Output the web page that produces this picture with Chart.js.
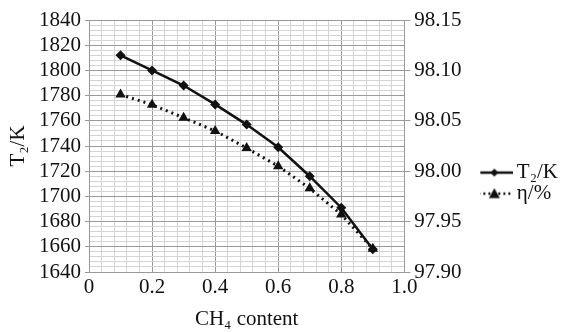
<!DOCTYPE html>
<html>
<head>
<meta charset="utf-8">
<script src="https://cdn.jsdelivr.net/npm/chart.js@4/dist/chart.umd.min.js"></script>
<style>
  html, body { margin: 0; padding: 0; background: #fff; }
  #wrap { width: 568px; height: 332px; }
</style>
</head>
<body>
<div id="wrap"><canvas id="chart"></canvas></div>
<script>
// CH4 content (x), shared by both series
var ch4_content = [0.1, 0.2, 0.3, 0.4, 0.5, 0.6, 0.7, 0.8, 0.9];
// T2 / K  (left axis)
var t2_values = [1812, 1800, 1788, 1773, 1757, 1739, 1716, 1691, 1658];
// eta / %  (right axis)
var eta_values = [98.076, 98.066, 98.053, 98.040, 98.023, 98.005, 97.983, 97.957, 97.923];

var t2_label = 'T\u2082/K';
var eta_label = '\u03B7/%';

var major_grid = '#9a9a9a';
var minor_grid = '#d4d4d4';
var serif = '"Liberation Serif", "DejaVu Serif", serif';
var fsize = 21;

Chart.defaults.font.family = serif;
Chart.defaults.font.size = fsize;
Chart.defaults.color = '#111';

function is_multiple(v, step) {
	var r = v / step;
	return Math.abs(r - Math.round(r)) < 1e-6;
}

function to_points(xs, ys) {
	var pts = [];
	for (var i = 0; i < xs.length; i++) {
		pts.push({x: xs[i], y: ys[i]});
	}
	return pts;
}

// small picture of line + marker for the legend
function legend_sample(dashed, marker) {
	var c = document.createElement('canvas');
	c.width = 40;
	c.height = 14;
	var g = c.getContext('2d');
	g.strokeStyle = '#111';
	g.fillStyle = '#111';
	g.lineWidth = 2.5;
	if (dashed) {
		g.setLineDash([2, 3]);
	}
	g.beginPath();
	g.moveTo(0, 7);
	g.lineTo(40, 7);
	g.stroke();
	g.setLineDash([]);
	g.beginPath();
	if (marker == 'diamond') {
		g.moveTo(21, 3); g.lineTo(25, 7); g.lineTo(21, 11); g.lineTo(17, 7);
	} else {
		g.moveTo(21, 1.5); g.lineTo(26.5, 11.5); g.lineTo(15.5, 11.5);
	}
	g.closePath();
	g.fill();
	return c;
}

var samples = [legend_sample(false, 'diamond'), legend_sample(true, 'triangle')];

var ctx = document.getElementById('chart');
var myChart = new Chart(ctx, {
	type: 'line',
	data: {
		datasets: [{
			label: t2_label,
			data: to_points(ch4_content, t2_values),
			yAxisID: 'y',
			borderColor: '#111',
			backgroundColor: '#111',
			borderWidth: 2.5,
			pointStyle: 'rectRot',
			pointRadius: 5,
			pointBorderWidth: 0,
			tension: 0,
		}, {
			label: eta_label,
			data: to_points(ch4_content, eta_values),
			yAxisID: 'y1',
			borderColor: '#111',
			backgroundColor: '#111',
			borderWidth: 3,
			borderDash: [2, 4],
			pointStyle: 'triangle',
			pointRadius: 6,
			pointBorderWidth: 0,
			tension: 0,
		}]
	},
	options: {
		responsive: true,
		maintainAspectRatio: false,
		animation: false,
		layout: {
			padding: {top: 20, left: 0, right: 0, bottom: 0}
		},
		plugins: {
			tooltip: {enabled: false},
			legend: {
				position: 'right',
				align: 'center',
				// empty title only pushes the two entries a little lower
				title: {display: true, text: '', font: {size: 1}, padding: {top: 13, bottom: 0}},
				labels: {
					usePointStyle: true,
					pointStyleWidth: 26,
					color: '#111',
					padding: 0,
					font: {family: serif, size: fsize},
					generateLabels: function (chart) {
						var items = Chart.defaults.plugins.legend.labels.generateLabels(chart);
						items.forEach(function (it, i) {
							it.pointStyle = samples[i];
						});
						return items;
					}
				}
			}
		},
		scales: {
			x: {
				type: 'linear',
				min: 0,
				max: 1,
				border: {color: major_grid},
				grid: {
					drawTicks: false,
					color: function (c) { return is_multiple(c.tick.value, 0.2) ? major_grid : minor_grid; }
				},
				ticks: {
					stepSize: 0.04,
					autoSkip: false,
					maxRotation: 0,
					padding: 3,
					color: '#111',
					font: {family: serif, size: fsize},
					callback: function (v) {
						if (!is_multiple(v, 0.2)) return '';
						if (v == 0) return '0';
						return v.toFixed(1);
					}
				},
				title: {
					display: true,
					text: 'CH\u2084 content',
					color: '#111',
					font: {family: serif, size: fsize},
					padding: {top: 6, bottom: 0}
				},
				afterFit: function (scale) { scale.height = 60; }
			},
			y: {
				position: 'left',
				min: 1640,
				max: 1840,
				border: {color: major_grid},
				grid: {
					tickLength: 4,
					color: function (c) { return is_multiple(c.tick.value, 20) ? major_grid : minor_grid; },
					tickColor: function (c) { return is_multiple(c.tick.value, 20) ? major_grid : 'rgba(0,0,0,0)'; }
				},
				ticks: {
					stepSize: 4,
					autoSkip: false,
					padding: 4,
					color: '#111',
					font: {family: serif, size: fsize},
					callback: function (v) { return is_multiple(v, 20) ? v : ''; }
				},
				title: {
					display: true,
					text: t2_label,
					color: '#111',
					font: {family: serif, size: fsize},
					padding: {top: 6, bottom: 2}
				},
				afterFit: function (scale) { scale.width = 89; }
			},
			y1: {
				position: 'right',
				min: 97.90,
				max: 98.15,
				border: {color: major_grid},
				grid: {
					drawOnChartArea: false,
					tickLength: 6,
					color: major_grid
				},
				ticks: {
					stepSize: 0.05,
					padding: 4,
					color: '#111',
					font: {family: serif, size: fsize},
					callback: function (v) { return v.toFixed(2); }
				},
				afterFit: function (scale) { scale.width = 76; }
			}
		}
	}
});
</script>
</body>
</html>
